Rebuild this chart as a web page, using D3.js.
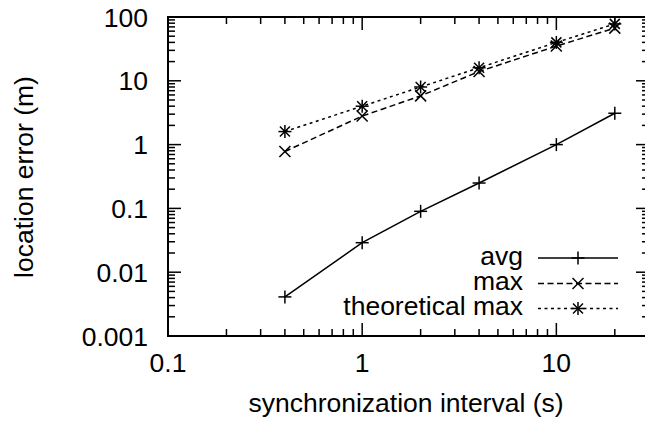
<!DOCTYPE html>
<html>
<head>
<meta charset="utf-8">
<script src="https://cdn.jsdelivr.net/npm/d3@7"></script>
<style>
  html, body { margin: 0; padding: 0; background: #fff; }
  svg { display: block; }
  text { font-family: "Liberation Sans", Arial, Helvetica, sans-serif; fill: #000; }
</style>
</head>
<body>
<svg id="chart" width="645" height="421"></svg>
<script>
// synchronization interval (s)
const intervals = [0.4, 1, 2, 4, 10, 20];
// location error (m) per series
const avgError = [0.0041, 0.029, 0.09, 0.25, 1.0, 3.1];
const maxError = [0.78, 2.8, 5.8, 14, 35, 67];
const theoreticalMax = [1.6, 4.0, 8.0, 16, 40, 78];

const seriesNames = ["avg", "max", "theoretical max"];
const xTickLabels = ["0.1", "1", "10"];
const yTickLabels = ["0.001", "0.01", "0.1", "1", "10", "100"];

const series = [
  { name: seriesNames[0], values: avgError, dash: null, marker: "plus" },
  { name: seriesNames[1], values: maxError, dash: "6,3.5", marker: "cross" },
  { name: seriesNames[2], values: theoreticalMax, dash: "3,3.5", marker: "star" }
];

const svg = d3.select("#chart");
const plotLeft = 168, plotRight = 649, plotTop = 17, plotBottom = 336;

const x = d3.scaleLog().domain([0.1, 30]).range([plotLeft, plotRight]);
const y = d3.scaleLog().domain([0.001, 100]).range([plotBottom, plotTop]);

// frame
const g = svg.append("g");
g.append("rect")
  .attr("x", plotLeft).attr("y", plotTop)
  .attr("width", plotRight - plotLeft).attr("height", plotBottom - plotTop)
  .attr("fill", "none").attr("stroke", "#000").attr("stroke-width", 2);

// ticks, mirrored on all four sides, pointing inward
const majorLen = 13, minorLen = 7;
function logTicks(lo, hi) {
  const out = [];
  for (let e = Math.floor(Math.log10(lo)); e <= Math.ceil(Math.log10(hi)); e++) {
    for (let m = 1; m <= 9; m++) {
      const v = m * Math.pow(10, e);
      if (v >= lo * 0.999 && v <= hi * 1.001) out.push({ v, major: m === 1 });
    }
  }
  return out;
}
const xt = logTicks(0.1, 30);
const yt = logTicks(0.001, 100);
const tickG = g.append("g").attr("stroke", "#000").attr("stroke-width", 1.5);
xt.forEach(t => {
  const len = t.major ? majorLen : minorLen;
  const px = x(t.v);
  tickG.append("line").attr("x1", px).attr("x2", px).attr("y1", plotBottom).attr("y2", plotBottom - len);
  tickG.append("line").attr("x1", px).attr("x2", px).attr("y1", plotTop).attr("y2", plotTop + len);
});
yt.forEach(t => {
  const len = t.major ? majorLen : minorLen;
  const py = y(t.v);
  tickG.append("line").attr("x1", plotLeft).attr("x2", plotLeft + len).attr("y1", py).attr("y2", py);
  tickG.append("line").attr("x1", plotRight).attr("x2", plotRight - len).attr("y1", py).attr("y2", py);
});

// tick labels
const fontSize = 26.5;
xTickLabels.forEach(s => {
  g.append("text").attr("x", x(+s)).attr("y", 372)
    .attr("text-anchor", "middle").attr("font-size", fontSize).text(s);
});
yTickLabels.forEach(s => {
  g.append("text").attr("x", 148).attr("y", y(+s)).attr("dy", "0.36em")
    .attr("text-anchor", "end").attr("font-size", fontSize).text(s);
});

// axis titles
g.append("text").attr("x", 406).attr("y", 412)
  .attr("text-anchor", "middle").attr("font-size", fontSize)
  .text("synchronization interval (s)");
g.append("text")
  .attr("transform", "translate(33,177) rotate(-90)")
  .attr("text-anchor", "middle").attr("font-size", fontSize)
  .text("location error (m)");

// markers
function drawMarker(sel, type, cx, cy) {
  const m = sel.append("g").attr("stroke", "#000").attr("stroke-width", 1.5).attr("fill", "none");
  const p = 6.5, c = 5.5;
  if (type === "plus" || type === "star") {
    m.append("line").attr("x1", cx - p).attr("x2", cx + p).attr("y1", cy).attr("y2", cy);
    m.append("line").attr("x1", cx).attr("x2", cx).attr("y1", cy - p).attr("y2", cy + p);
  }
  if (type === "cross" || type === "star") {
    const k = type === "star" ? 5 : c;
    m.append("line").attr("x1", cx - k).attr("x2", cx + k).attr("y1", cy - k).attr("y2", cy + k);
    m.append("line").attr("x1", cx - k).attr("x2", cx + k).attr("y1", cy + k).attr("y2", cy - k);
  }
}

const line = d3.line().x(d => x(d[0])).y(d => y(d[1]));
series.forEach(s => {
  const pts = intervals.map((v, i) => [v, s.values[i]]);
  g.append("path").attr("d", line(pts))
    .attr("fill", "none").attr("stroke", "#000").attr("stroke-width", 1.5)
    .attr("stroke-dasharray", s.dash);
  pts.forEach(p => drawMarker(g, s.marker, x(p[0]), y(p[1])));
});

// legend
const legendRowY = [258, 283.5, 308.5];
series.forEach((s, i) => {
  const ly = legendRowY[i];
  g.append("text").attr("x", 523).attr("y", ly + 6.5)
    .attr("text-anchor", "end").attr("font-size", fontSize).text(s.name);
  g.append("line").attr("x1", 538).attr("x2", 618).attr("y1", ly).attr("y2", ly)
    .attr("stroke", "#000").attr("stroke-width", 1.5).attr("stroke-dasharray", s.dash);
  drawMarker(g, s.marker, 578, ly);
});
</script>
</body>
</html>
